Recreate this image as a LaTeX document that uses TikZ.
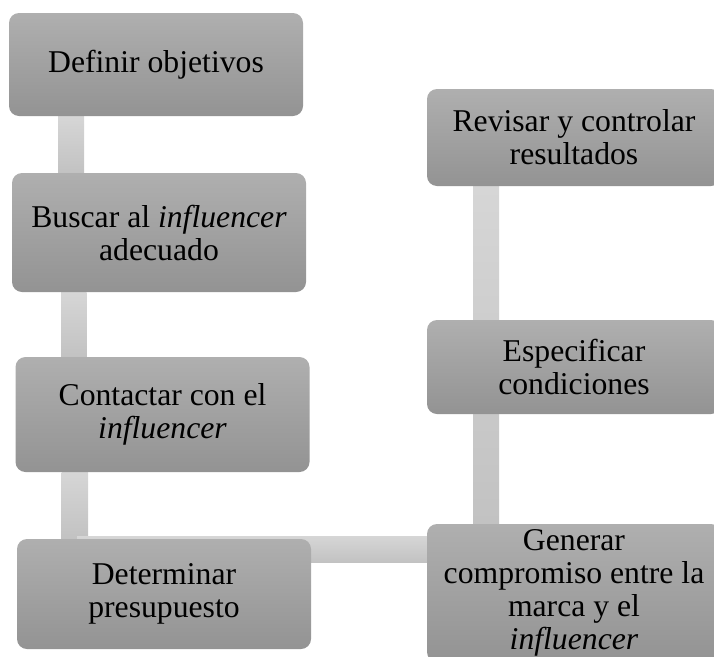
\documentclass[tikz,border=0pt]{standalone}
\usepackage{fontspec}
\setmainfont{Liberation Serif}
\definecolor{boxtop}{HTML}{AFAFAF}
\definecolor{boxbot}{HTML}{939393}
\definecolor{linktop}{HTML}{D6D6D6}
\definecolor{linkbot}{HTML}{C2C2C2}
\usetikzlibrary{calc, backgrounds}

\begin{document}
\begin{tikzpicture}[x=1pt, y=1pt,
  box/.style={rounded corners=10pt, top color=boxtop, bottom color=boxbot,
              minimum width=294pt, inner sep=0pt, outer sep=0pt, align=center,
              font=\fontsize{31.7}{33}\selectfont},
  link/.style={top color=linktop, bottom color=linkbot},
]
\path[use as bounding box, clip] (0,0) rectangle (714,-656);

\node[box, minimum height=103pt] (obj) at (156,-64.5) {Definir objetivos};
\node[box, minimum height=119pt] (busc) at (159,-232.5) {Buscar al \textit{influencer}\\adecuado};
\node[box, minimum height=115pt] (cont) at (162.5,-414.5) {Contactar con el\\\textit{influencer}};
\node[box, minimum height=110pt] (pres) at (164,-594) {Determinar\\presupuesto};
\node[box, minimum height=138pt] (gen) at (574,-593) {Generar\\compromiso entre la\\marca y el\\\textit{influencer}};
\node[box, minimum height=94pt] (esp) at (574,-367) {Especificar\\condiciones};
\node[box, minimum height=97pt] (rev) at (574,-137.5) {Revisar y controlar\\resultados};

\begin{scope}[on background layer]
\path[link] ([xshift=49pt]obj.south west) rectangle ([xshift=72pt]busc.north west);
\path[link] ([xshift=49pt]busc.south west) rectangle ([xshift=71pt]cont.north west);
\path[link] ([xshift=46pt]cont.south west) rectangle ([xshift=71pt]pres.north west);
\path[link] ([xshift=60pt, yshift=3pt]pres.north west) rectangle ([yshift=-38pt]gen.north west);
\path[link] ([xshift=46pt]rev.south west) rectangle ([xshift=72pt]gen.north west);
\end{scope}
\end{tikzpicture}
\end{document}
